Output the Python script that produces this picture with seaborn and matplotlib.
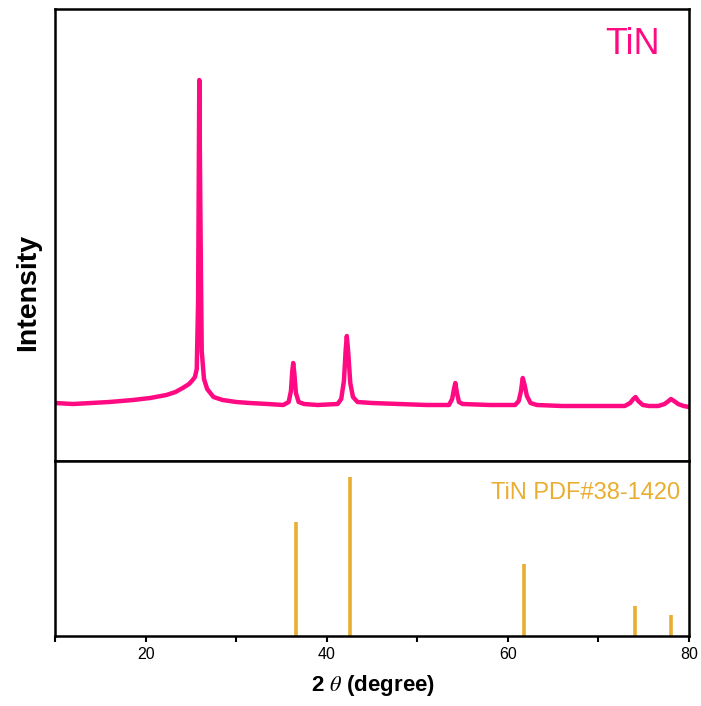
import numpy as np
import pandas as pd
import matplotlib
matplotlib.use("Agg")
import matplotlib.pyplot as plt
import seaborn as sns

# ---- data ----
two_theta = [10, 12, 14, 16, 18.6, 20.5, 22.3, 23.3, 24.1, 24.8, 25.2, 25.45, 25.65,
             25.8, 25.93, 26.05, 26.2, 26.45, 26.8, 27.5, 28.5, 30, 31.5, 33.5, 35.2,
             35.8, 36.05, 36.2, 36.3, 36.42, 36.6, 36.9, 37.5, 39, 41.2, 41.6, 41.9,
             42.1, 42.22, 42.38, 42.6, 42.9, 43.4, 45, 48, 51, 53.5, 53.85, 54.05,
             54.2, 54.38, 54.6, 55, 58, 60.8, 61.2, 61.45, 61.64, 61.85, 62.1, 62.5,
             63.2, 66, 70, 72.9, 73.5, 73.85, 74.1, 74.4, 74.9, 75.6, 76.6, 77.3,
             77.75, 78.0, 78.35, 78.8, 79.4, 80]
intensity = [58, 57, 58, 59, 61, 63, 66, 69, 73, 77, 81, 84, 92,
             160, 381, 250, 110, 82, 72, 64, 61, 59, 58, 57, 56,
             59, 70, 90, 98, 88, 68, 59, 57, 56, 57, 62, 80,
             112, 125, 108, 78, 64, 59, 58, 57, 56, 56, 62, 72,
             78, 68, 59, 57, 56, 56, 60, 70, 83, 76, 65, 58,
             56, 55, 55, 55, 58, 62, 64, 60, 56, 55, 55, 57,
             60, 62, 60, 57, 55, 54]

ref_pos = [36.66, 42.60, 61.81, 74.07, 77.96]
ref_int = [72, 100, 45, 19, 13]

sample_label = "TiN"
ref_label = "TiN PDF#38-1420"
x_ticks = [20, 40, 60, 80]
x_minor = [10, 30, 50, 70]

pink = "#FF0A82"
gold = "#E9AD2F"

sns.set_theme(style="white")
plt.rcParams['font.family'] = ['Liberation Sans', 'DejaVu Sans']
plt.rcParams['mathtext.fontset'] = 'stix'
plt.rcParams['text.color'] = 'black'
plt.rcParams['xtick.color'] = 'black'
plt.rcParams['xtick.labelcolor'] = 'black'

W, H = 701, 706
fig = plt.figure(figsize=(W / 100, H / 100), dpi=100)

def fx(px):
    return px / W

def fy(py):
    return 1 - py / H

left, right = 55, 689
top, mid, bot = 9, 461, 636

ax1 = fig.add_axes([fx(left), fy(mid), fx(right - left), (mid - top) / H])
ax2 = fig.add_axes([fx(left), fy(bot), fx(right - left), (bot - mid) / H], sharex=ax1)

df = pd.DataFrame({"two_theta": two_theta, "intensity": intensity})
sns.lineplot(data=df, x="two_theta", y="intensity", ax=ax1, color=pink,
             linewidth=3.2, sort=False)
ax1.set_xlim(10, 80)
ax1.set_ylim(0, mid - top)
ax1.set_xlabel("")
ax1.set_ylabel("")
ax1.set_yticks([])
ax1.tick_params(axis="x", which="both", bottom=False, labelbottom=False)

ax2.vlines(ref_pos, 0, ref_int, color=gold, linewidth=2.6)
ax2.set_ylim(0, 100 * (bot - mid) / 159)
ax2.set_yticks([])
ax2.set_xticks(x_ticks)
ax2.set_xticks(x_minor, minor=True)
ax2.set_xticklabels([str(t) for t in x_ticks], fontsize=11.5, color="black")
ax2.tick_params(axis="x", which="both", direction="out", length=4, width=1.5,
                bottom=True, color="black", pad=4)
ax2.set_xlabel("")
ax2.set_ylabel("")

for ax in (ax1, ax2):
    for s in ax.spines.values():
        s.set_color("black")
        s.set_linewidth(1.8)

ax1.text(fx(660), fy(45), sample_label, transform=fig.transFigure, ha="right",
         va="center", fontsize=26, color=pink)
ax2.text(fx(680), fy(493), ref_label, transform=fig.transFigure, ha="right",
         va="center", fontsize=17, color=gold)

fig.text(fx(28), fy(292), "Intensity", rotation=90, ha="center", va="center",
         fontsize=20.5, fontweight="bold", color="black")
fig.text(fx(373), fy(686), r"2 $\theta$ (degree)", ha="center", va="center",
         fontsize=16, fontweight="bold", color="black")

fig.savefig("out.png", dpi=100)
